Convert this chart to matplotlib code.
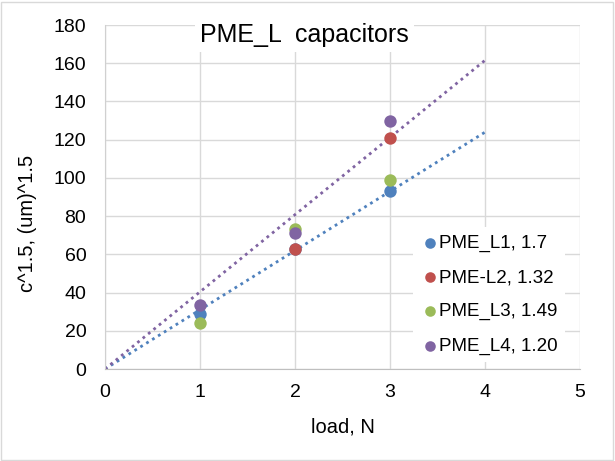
import numpy as np
import matplotlib
matplotlib.use("Agg")
import matplotlib.pyplot as plt

plt.rcParams['font.family'] = ['Liberation Sans', 'DejaVu Sans']

loads = [1, 2, 3]
L1 = [28.8, 62.8, 93.1]
L2 = [None, 62.8, 120.9]
L3 = [24.0, 73.3, 98.9]
L4 = [33.5, 71.2, 129.8]
labels = ["PME_L1, 1.7", "PME-L2, 1.32", "PME_L3, 1.49", "PME_L4, 1.20"]
colors = ["#4F81BD", "#C0504D", "#9BBB59", "#8064A2"]
series = [L1, L2, L3, L4]
trend_series = [0, 3]

fig = plt.figure(figsize=(6.15, 4.61), dpi=100)
ax = fig.add_axes([105/615, 1-369/461, 475/615, 344/461])

ax.set_xlim(0, 5)
ax.set_ylim(0, 180)
ax.set_xticks(range(0, 6))
ax.set_yticks(range(0, 181, 20))
ax.grid(True, color="#D9D9D9", linewidth=1)
ax.set_axisbelow(True)
for s in ["top", "right"]:
    ax.spines[s].set_visible(False)
ax.spines["left"].set_color("#D0D0D0")
ax.spines["bottom"].set_color("#BFBFBF")
ax.tick_params(length=0, labelsize=14, labelcolor="black")
ax.tick_params(axis="y", pad=13.5)
ax.tick_params(axis="x", pad=10.5)

# trendlines through origin (linear fit, intercept 0)
for i in trend_series:
    xs = np.array([x for x, v in zip(loads, series[i]) if v is not None], float)
    ys = np.array([v for v in series[i] if v is not None], float)
    k = (xs * ys).sum() / (xs * xs).sum()
    xl = np.array([0, 4])
    ax.plot(xl, k * xl, linestyle=(0, (1, 1.5)), color=colors[i], linewidth=2, zorder=2)

handles = []
for vals, c, lab in zip(series, colors, labels):
    xs = [x for x, v in zip(loads, vals) if v is not None]
    ys = [v for v in vals if v is not None]
    h = ax.scatter(xs, ys, s=80, color=c, label=lab, zorder=3, linewidths=0)
    handles.append(h)

leg = ax.legend(handles=handles, loc="lower right", bbox_to_anchor=(0.969, 0.02),
                fontsize=13.5, frameon=True, fancybox=False, edgecolor="none",
                facecolor="white", framealpha=1, handletextpad=0.0,
                markerscale=0.85, labelspacing=0.9, borderpad=0.4,
                handlelength=1.0, borderaxespad=0)

ax.set_xlabel("load, N", fontsize=14.5)
ax.xaxis.set_label_coords(0.5, -0.14)
ax.set_ylabel("c^1.5, (um)^1.5", fontsize=14.5)
ax.yaxis.set_label_coords(-0.143, 0.423)

ax.text(0.42, 0.972, "PME_L  capacitors", transform=ax.transAxes, ha="center",
        va="center", fontsize=18,
        bbox=dict(facecolor="white", edgecolor="none", pad=4), zorder=5)

# outer chart border
fig.patches.append(plt.Rectangle((0.002, 0.002), 0.994, 0.994, transform=fig.transFigure,
                                 fill=False, edgecolor="#D9D9D9", linewidth=1))

fig.savefig("out.png", dpi=100)
